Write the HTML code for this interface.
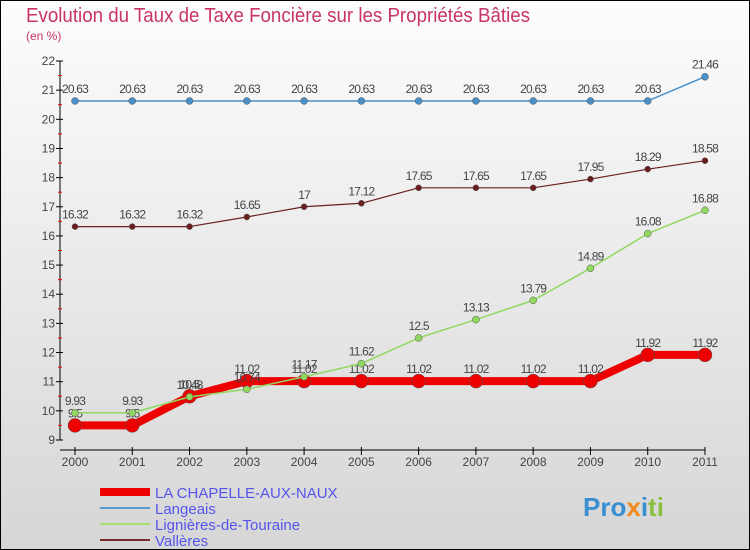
<!DOCTYPE html>
<html><head><meta charset="utf-8"><style>
body{margin:0}
svg{display:block;font-family:"Liberation Sans",sans-serif}
</style></head><body>
<svg id="c" width="750" height="550">
<defs><linearGradient id="bg" x1="0" y1="0" x2="0" y2="1"><stop offset="0" stop-color="#fdfdfd"/><stop offset="1" stop-color="#d6d6d6"/></linearGradient></defs>
<rect x="0.5" y="0.5" width="749" height="549" fill="url(#bg)" stroke="#000"/>
<text x="26" y="22" font-size="20" fill="#c8336a" textLength="504" lengthAdjust="spacingAndGlyphs">Evolution du Taux de Taxe Foncière sur les Propriétés Bâties</text>
<text x="26" y="40" font-size="12" fill="#c8336a">(en %)</text>
<g id="axes"></g><g id="series"></g>
<g>
<line x1="100" y1="492" x2="150" y2="492" stroke="#ee0000" stroke-width="8"/>
<text x="155" y="498" font-size="15" fill="#5555ee">LA CHAPELLE-AUX-NAUX</text>
<line x1="100" y1="508" x2="150" y2="508" stroke="#5b9bd5" stroke-width="2"/>
<text x="155" y="514" font-size="15" fill="#5555ee">Langeais</text>
<line x1="100" y1="524" x2="150" y2="524" stroke="#a8e070" stroke-width="2"/>
<text x="155" y="530" font-size="15" fill="#5555ee">Lignières-de-Touraine</text>
<line x1="100" y1="540" x2="150" y2="540" stroke="#7a2a2a" stroke-width="2"/>
<text x="155" y="546" font-size="15" fill="#5555ee">Vallères</text>
</g>
<text x="583" y="516" font-size="26" font-weight="bold"><tspan fill="#3a8fd0">Pro</tspan><tspan fill="#f08a1c">x</tspan><tspan fill="#3a8fd0">i</tspan><tspan fill="#8ac040">ti</tspan></text>
</svg>
<script>
const years=[2000,2001,2002,2003,2004,2005,2006,2007,2008,2009,2010,2011];
const chapelle=[9.5,9.5,10.5,11.02,11.02,11.02,11.02,11.02,11.02,11.02,11.92,11.92];
const langeais=[20.63,20.63,20.63,20.63,20.63,20.63,20.63,20.63,20.63,20.63,20.63,21.46];
const lignieres=[9.93,9.93,10.48,10.74,11.17,11.62,12.5,13.13,13.79,14.89,16.08,16.88];
const valleres=[16.32,16.32,16.32,16.65,17,17.12,17.65,17.65,17.65,17.95,18.29,18.58];
const yTicks=[9,10,11,12,13,14,15,16,17,18,19,20,21,22];
const NS="http://www.w3.org/2000/svg";
const X=i=>75+i*(630/11);
const Y=v=>440-(v-9)*(379/13);
function mk(p,t,a){const e=document.createElementNS(NS,t);for(const k in a)e.setAttribute(k,a[k]);p.appendChild(e);return e;}
const ax=document.getElementById('axes');
let e=mk(ax,'line',{x1:60,y1:61,x2:60,y2:440,stroke:'#000'});


e=mk(ax,'line',{x1:60,y1:450,x2:705,y2:450,stroke:'#000'});


yTicks.forEach(v=>{
 mk(ax,'line',{x1:56,y1:Y(v),x2:63,y2:Y(v),stroke:'#000'});
 if(v<22)mk(ax,'line',{x1:58,y1:Y(v+0.5),x2:62,y2:Y(v+0.5),stroke:'#e00'});
 const t=mk(ax,'text',{x:55,y:Y(v)+4,'font-size':12,'text-anchor':'end',fill:'#444'});t.textContent=v;
 
 
});
years.forEach((y,i)=>{
 mk(ax,'line',{x1:X(i),y1:447,x2:X(i),y2:455,stroke:'#000'});
 const t=mk(ax,'text',{x:X(i),y:466,'font-size':12,'text-anchor':'middle',fill:'#444'});t.textContent=y;
 
 
});
const sg=document.getElementById('series');
function draw(vals,color,w,r,name){
 const g=mk(sg,'g',{});
 
 
 const pl=mk(g,'polyline',{points:vals.map((v,i)=>X(i)+','+Y(v)).join(' '),fill:'none',stroke:color,'stroke-width':w,'stroke-linejoin':'round'});
 
 
 vals.forEach((v,i)=>{
  const c=mk(g,'circle',{cx:X(i),cy:Y(v),r:r,fill:color,stroke:'#555','stroke-width':0.5});
  
  
  const t=mk(g,'text',{x:X(i),y:Y(v)-8,'font-size':12,'text-anchor':'middle',fill:'#444','letter-spacing':'-0.8'});t.textContent=v;
  
  
 });
}
draw(langeais,'#4a90c8',1.5,3.5,'series-langeais');
draw(valleres,'#6a1f1f',1.2,3,'series-valleres');
draw(chapelle,'#ee0000',8,7,'series-chapelle');
draw(lignieres,'#90d860',1.5,3.5,'series-lignieres');
</script>
</body></html>
